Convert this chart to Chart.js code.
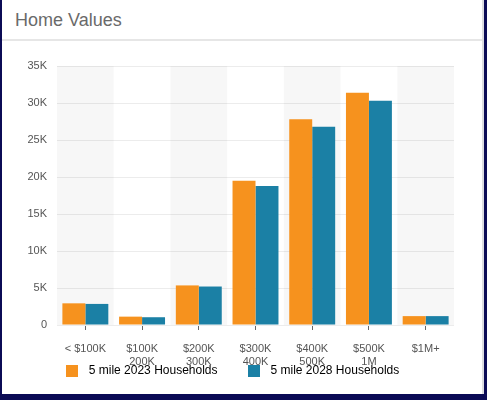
<!DOCTYPE html>
<html>
<head>
<meta charset="utf-8">
<script src="https://cdn.jsdelivr.net/npm/chart.js@4/dist/chart.umd.min.js"></script>
<style>
  html, body { margin: 0; padding: 0; }
  body { width: 487px; height: 400px; background: #0b0b55; position: relative; overflow: hidden; font-family: "Liberation Sans", Arial, sans-serif; }
  #card { position: absolute; left: 2px; top: 0; width: 480px; height: 394px; background: #fff; border-right: 2px solid #dcdce0; }
  #title { position: absolute; left: 13px; top: 9px; font-size: 18px; line-height: 22px; color: #6a6a6a; }
  #sep { position: absolute; left: 0; top: 39px; width: 480px; height: 2px; background: #e6e6e6; }
  #wrap { position: absolute; left: 0; top: 0; width: 487px; height: 400px; }
</style>
</head>
<body>
<div id="card"><div id="title">Home Values</div><div id="sep"></div></div>
<div id="wrap"><canvas id="c" width="487" height="400"></canvas></div>
<script>
const categories = [["< $100K"], ["$100K", "200K"], ["$200K", "300K"], ["$300K", "400K"], ["$400K", "500K"], ["$500K", "1M"], ["$1M+"]];
const households2023 = [2930, 1130, 5350, 19500, 27800, 31400, 1200];
const households2028 = [2850, 1050, 5200, 18800, 26800, 30300, 1200];
const seriesNames = ["5 mile 2023 Households", "5 mile 2028 Households"];
const seriesColors = ["#f6921e", "#1b80a5"];
const yTickLabels = ["0", "5K", "10K", "15K", "20K", "25K", "30K", "35K"];
const LEGEND_PAD = 25;

function swatch(color) {
  const cv = document.createElement('canvas');
  cv.width = 12; cv.height = 12;
  const g = cv.getContext('2d');
  g.fillStyle = color; g.fillRect(0, 0, 12, 12);
  return cv;
}

const bandPlugin = {
  id: 'bands',
  afterLayout(chart) {
    const lg = chart.legend;
    if (lg) {
      const h = lg.bottom - lg.top;
      lg.top = chart.chartArea.bottom + 46 - LEGEND_PAD - 6;
      lg.bottom = lg.top + h;
      lg.left += 2; lg.right += 2;
    }
  },
  beforeDatasetsDraw(chart) {
    const x = chart.scales.x, a = chart.chartArea, ctx = chart.ctx;
    const w = (a.right - a.left) / categories.length;
    ctx.save();
    ctx.fillStyle = 'rgba(0,0,0,0.03)';
    for (let i = 0; i < categories.length; i += 2) {
      const cx = x.getPixelForValue(i);
      ctx.fillRect(cx - w / 2, a.top, w, a.bottom - a.top);
    }
    ctx.restore();
  }
};

new Chart(document.getElementById('c'), {
  type: 'bar',
  data: {
    labels: categories,
    datasets: [
      { label: seriesNames[0], data: households2023, backgroundColor: seriesColors[0], borderWidth: 0 },
      { label: seriesNames[1], data: households2028, backgroundColor: seriesColors[1], borderWidth: 0 }
    ]
  },
  plugins: [bandPlugin],
  options: {
    responsive: false,
    animation: false,
    layout: { padding: { left: 2, right: 33, top: 66, bottom: -15 } },
    datasets: { bar: { categoryPercentage: 0.81, barPercentage: 1.0 } },
    plugins: {
      tooltip: { enabled: false },
      legend: {
        position: 'bottom',
        labels: {
          font: { family: '"Liberation Sans", Arial, sans-serif', size: 12 },
          color: '#333',
          usePointStyle: true,
          pointStyleWidth: 22,
          boxHeight: 12,
          padding: LEGEND_PAD,
          generateLabels(chart) {
            return chart.data.datasets.map((ds, i) => ({
              text: ds.label,
              fillStyle: seriesColors[i],
              strokeStyle: seriesColors[i],
              lineWidth: 0,
              pointStyle: swatch(seriesColors[i]),
              hidden: false,
              datasetIndex: i
            }));
          }
        }
      }
    },
    scales: {
      x: {
        grid: { display: true, drawOnChartArea: false, drawTicks: true, tickLength: 5, color: '#666', offset: false },
        border: { display: false },
        ticks: { font: { family: '"Liberation Sans", Arial, sans-serif', size: 11 }, color: '#555', padding: 12, maxRotation: 0, autoSkip: false },
        afterFit(s) { s.height = 43; }
      },
      y: {
        min: 0, max: 35000,
        grid: { color: '#ececec', drawTicks: false },
        border: { display: false },
        ticks: {
          stepSize: 5000,
          font: { family: '"Liberation Sans", Arial, sans-serif', size: 11 },
          color: '#555',
          padding: 10,
          callback: (v, i) => yTickLabels[i]
        },
        afterFit(s) { s.width = 55; }
      }
    }
  }
});
</script>
</body>
</html>
